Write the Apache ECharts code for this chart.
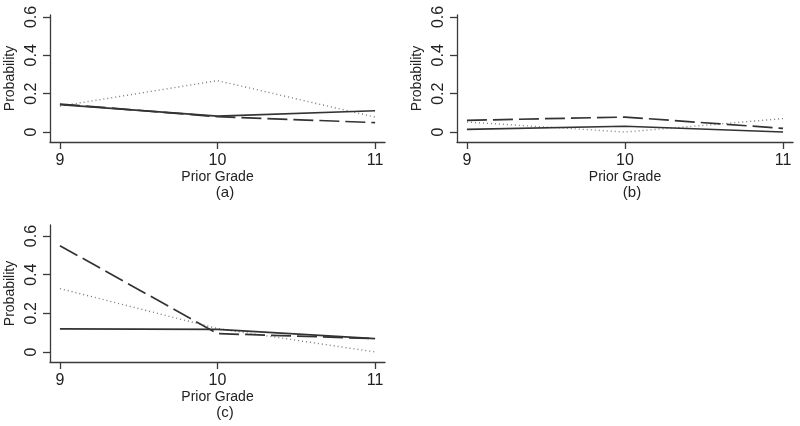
<!DOCTYPE html>
<html><head><meta charset="utf-8">
<script src="https://cdn.jsdelivr.net/npm/echarts@6/dist/echarts.min.js"></script>
<style>html,body{margin:0;padding:0;background:#fff}#c{width:800px;height:426px}</style>
</head><body><div id="c"></div>
<script>
const grades = [9, 10, 11];
const yTicks = [0, 0.2, 0.4, 0.6];
const panelLabels = ['(a)', '(b)', '(c)'];
// panel (a)
const aSolid = [0.143, 0.083, 0.111];
const aDashed = [0.146, 0.080, 0.049];
const aDotted = [0.135, 0.268, 0.078];
// panel (b)
const bSolid = [0.014, 0.030, 0.000];
const bDashed = [0.061, 0.078, 0.019];
const bDotted = [0.052, 0.000, 0.070];
// panel (c)
const cSolid = [0.119, 0.117, 0.069];
const cDashed = [0.550, 0.095, 0.069];
const cDotted = [0.328, 0.121, 0.000];

const panels = [
  {solid: aSolid, dashed: aDashed, dotted: aDotted, left: 50, top: 15, width: 335, height: 127, ymax: 0.61},
  {solid: bSolid, dashed: bDashed, dotted: bDotted, left: 457, top: 15, width: 336, height: 127, ymax: 0.61},
  {solid: cSolid, dashed: cDashed, dotted: cDotted, left: 50, top: 225, width: 335, height: 137, ymax: 0.657}
];
const font = 'Liberation Sans, Arial, sans-serif';
const axisCol = '#3a3a3a';
const grid = [], xAxis = [], yAxis = [], series = [], title = [];
panels.forEach((p, i) => {
  grid.push({left: p.left, top: p.top, width: p.width, height: p.height});
  xAxis.push({
    type: 'value', gridIndex: i, min: 8.937, max: 11.063,
    axisLine: {show: true, onZero: false, lineStyle: {color: axisCol, width: 1.3}},
    axisTick: {show: true, length: 7, customValues: grades, lineStyle: {color: axisCol, width: 1.3}},
    axisLabel: {customValues: grades, color: '#222', fontSize: 16, fontFamily: font, margin: 11},
    splitLine: {show: false},
    name: 'Prior Grade', nameLocation: 'middle', nameGap: 26,
    nameTextStyle: {color: '#222', fontSize: 14, fontFamily: font}
  });
  yAxis.push({
    type: 'value', gridIndex: i, min: -0.052, max: p.ymax,
    axisLine: {show: true, onZero: false, lineStyle: {color: axisCol, width: 1.3}},
    axisTick: {show: true, length: 7, customValues: yTicks, lineStyle: {color: axisCol, width: 1.3}},
    axisLabel: {customValues: yTicks, rotate: 90, color: '#222', fontSize: 16, fontFamily: font, margin: 10,
      formatter: v => v === 0 ? '0' : v.toFixed(1)},
    splitLine: {show: false},
    name: 'Probability', nameLocation: 'middle', nameGap: 33, nameRotate: 90,
    nameTextStyle: {color: '#222', fontSize: 14, fontFamily: font}
  });
  const mk = (arr, type, color, w) => ({
    type: 'line', xAxisIndex: i, yAxisIndex: i, symbol: 'none', silent: true,
    data: grades.map((g, k) => [g, arr[k]]),
    lineStyle: {color, width: w, type}
  });
  series.push(mk(p.dotted, [1, 3], '#7a7a7a', 1.4));
  series.push(mk(p.dashed, [20, 6], '#333', 1.7));
  series.push(mk(p.solid, 'solid', '#333', 1.7));
  title.push({
    text: panelLabels[i], left: p.left + 170, top: p.top + p.height + 38,
    textAlign: 'center',
    textStyle: {fontSize: 15, fontWeight: 'normal', color: '#222', fontFamily: font}
  });
});
const chart = echarts.init(document.getElementById('c'), null, {renderer: 'canvas'});
chart.setOption({animation: false, backgroundColor: '#fff', grid, xAxis, yAxis, series, title});
</script></body></html>
